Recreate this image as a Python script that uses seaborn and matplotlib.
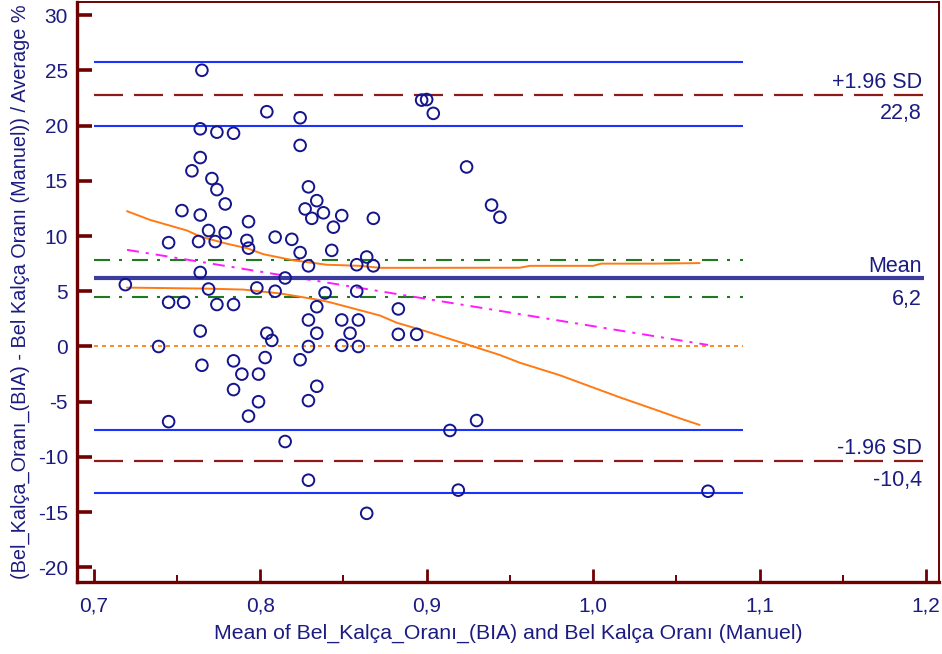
import numpy as np
import pandas as pd
import matplotlib
matplotlib.use("Agg")
import matplotlib.pyplot as plt
import seaborn as sns

# Bland-Altman: mean of the two waist-hip ratio methods vs. percent difference
mean_ratio = [
    0.765, 0.764, 0.774, 0.784, 0.764, 0.759, 0.771, 0.774, 0.779, 0.753,
    0.764, 0.745, 0.769, 0.779, 0.763, 0.773, 0.764, 0.719, 0.769, 0.745,
    0.754, 0.774, 0.784, 0.764, 0.739, 0.765, 0.784, 0.789, 0.784, 0.745,
    0.793, 0.792, 0.793, 0.793, 0.809, 0.819, 0.824, 0.843, 0.829, 0.858,
    0.864, 0.868, 0.815, 0.798, 0.809, 0.839, 0.858, 0.834, 0.829, 0.849,
    0.859, 0.834, 0.854, 0.804, 0.807, 0.829, 0.849, 0.859, 0.803, 0.824,
    0.799, 0.834, 0.799, 0.829, 0.815, 0.829, 0.864, 0.804, 0.824, 0.824,
    0.829, 0.834, 0.827, 0.831, 0.838, 0.849, 0.844, 0.868, 0.883, 0.883,
    0.894, 0.897, 0.900, 0.904, 0.924, 0.939, 0.944, 0.930, 0.914, 0.919,
    1.069,
]
pct_diff = [
    25.0, 19.7, 19.4, 19.3, 17.1, 15.9, 15.2, 14.2, 12.9, 12.3,
    11.9, 9.4, 10.5, 10.3, 9.5, 9.5, 6.7, 5.6, 5.2, 4.0,
    4.0, 3.8, 3.8, 1.4, 0.0, -1.7, -1.3, -2.5, -3.9, -6.8,
    11.3, 9.6, 8.9, -6.3, 9.9, 9.7, 8.5, 8.7, 7.3, 7.4,
    8.1, 7.3, 6.2, 5.3, 5.0, 4.85, 5.0, 3.6, 2.4, 2.4,
    2.4, 1.2, 1.2, 1.2, 0.55, 0.0, 0.1, 0.0, -1.0, -1.2,
    -2.5, -3.6, -5.0, -4.9, -8.6, -12.1, -15.1, 21.25, 20.7, 18.2,
    14.45, 13.2, 12.45, 11.6, 12.1, 11.85, 10.8, 11.6, 3.4, 1.1,
    1.1, 22.3, 22.35, 21.1, 16.25, 12.8, 11.7, -6.7, -7.6, -13.0,
    -13.1,
]

# Summary statistics
mean_diff = 6.2
upper_loa = 22.8
lower_loa = -10.4
mean_ci = [7.8, 4.5]
upper_loa_ci = [25.75, 20.0]
lower_loa_ci = [-7.6, -13.3]

# Regression of the difference on the mean, with its confidence curves
reg_x = [0.720, 1.069]
reg_y = [8.75, 0.14]
band_hi_x = [0.720, 0.734, 0.756, 0.764, 0.780, 0.792, 0.802, 0.820, 0.840,
             0.860, 0.872, 0.900, 0.956, 0.962, 1.000, 1.005, 1.037, 1.064]
band_hi_y = [12.25, 11.45, 10.5, 9.95, 9.3, 8.9, 8.35, 7.8, 7.4,
             7.3, 7.12, 7.12, 7.13, 7.3, 7.3, 7.5, 7.5, 7.55]
band_lo_x = [0.720, 0.768, 0.790, 0.812, 0.836, 0.842, 0.872, 0.882, 0.898,
             0.926, 0.944, 0.956, 0.980, 0.998, 1.016, 1.038, 1.052, 1.064]
band_lo_y = [5.33, 5.24, 5.15, 4.8, 4.2, 4.0, 2.8, 2.15, 1.45,
             0.1, -0.77, -1.47, -2.6, -3.6, -4.6, -5.75, -6.5, -7.1]

x_ticks = [0.7, 0.8, 0.9, 1.0, 1.1, 1.2]
x_minor = [0.75, 0.85, 0.95, 1.05, 1.15]
y_ticks = [-20, -15, -10, -5, 0, 5, 10, 15, 20, 25, 30]

x_label = "Mean of Bel_Kalça_Oranı_(BIA) and Bel Kalça Oranı (Manuel)"
y_label = "(Bel_Kalça_Oranı_(BIA) - Bel Kalça Oranı (Manuel)) / Average %"

sns.set_theme(style="white")
plt.rcParams["font.family"] = ["Liberation Sans", "DejaVu Sans"]
plt.rcParams["axes.unicode_minus"] = False
plt.rcParams["lines.scale_dashes"] = False

NAVY = "#1c1c80"
MAROON = "#6e0000"
FS_TICK = 15.0
FS_ANN = 15.5
PX = 72 / 100  # one pixel in points

fig = plt.figure(figsize=(9.42, 6.54), dpi=100)
fig.patch.set_facecolor("white")
ax = fig.add_axes([77 / 942, 1 - 581.5 / 654, 862 / 942, 579.5 / 654])
ax.set_facecolor("white")

x0, x_ci_end, x_line_end = 0.7, 1.09, 1.1985

def hline(y, x1, color, lw, dashes=None, z=2):
    ls = "-" if dashes is None else (0, tuple(d * PX for d in dashes))
    ax.plot([x0, x1], [y, y], color=color, lw=lw, linestyle=ls,
            solid_capstyle="butt", dash_capstyle="butt", zorder=z)

# confidence limits of the limits of agreement
for v in upper_loa_ci + lower_loa_ci:
    hline(v, x_ci_end, "#1a33ff", 1.5)
# confidence limits of the mean difference
for v in mean_ci:
    hline(v, x_ci_end, "#1e7a1e", 1.5, dashes=(16, 9, 3, 10))
# line of equality
hline(0, x_ci_end, "#ff8a1f", 1.4, dashes=(4, 4))
# limits of agreement
for v in (upper_loa, lower_loa):
    hline(v, x_line_end, "#8e1a1a", 1.6, dashes=(29, 11))
# mean difference
hline(mean_diff, x_line_end, "#3c3c9c", 3.0, z=3)

# regression line and its confidence curves
sns.lineplot(x=reg_x, y=reg_y, ax=ax, color="#ff1aff", lw=1.4,
             linestyle=(0, (12 * PX, 7 * PX, 3 * PX, 7 * PX)), zorder=2)
sns.lineplot(x=band_hi_x, y=band_hi_y, ax=ax, color="#ff7a14", lw=1.4,
             sort=False, estimator=None, zorder=2)
sns.lineplot(x=band_lo_x, y=band_lo_y, ax=ax, color="#ff7a14", lw=1.4,
             sort=False, estimator=None, zorder=2)

pts = pd.DataFrame({"m": mean_ratio, "d": pct_diff})
sns.scatterplot(data=pts, x="m", y="d", ax=ax, marker="o", s=70,
                facecolor="none", edgecolor="#14148c", linewidth=1.4, zorder=4)

def fmt(v):
    return f"{v:.1f}".replace(".", ",")

ann = dict(textcoords="offset pixels", ha="right", va="baseline",
           fontsize=FS_ANN, color=NAVY, zorder=5)
ax.annotate("+1.96 SD", (1.1975, upper_loa), xytext=(0, 7), **ann)
ax.annotate(fmt(upper_loa), (1.1975, upper_loa), xytext=(0, -24), **ann)
ax.annotate("Mean", (1.1975, mean_diff), xytext=(0, 6), **ann)
ax.annotate(fmt(mean_diff), (1.1975, mean_diff), xytext=(0, -27), **ann)
ax.annotate("-1.96 SD", (1.1975, lower_loa), xytext=(0, 7), **ann)
ax.annotate(fmt(lower_loa), (1.1975, lower_loa), xytext=(0, -25), **ann)

ax.set_xlim(0.68996, 1.2078)
ax.set_ylim(-21.27, 31.18)
ax.set_xticks(x_ticks)
ax.set_xticks(x_minor, minor=True)
ax.set_xticklabels([fmt(v) for v in x_ticks])
ax.set_yticks(y_ticks)
ax.set_yticklabels([str(v) for v in y_ticks])

ax.tick_params(axis="y", which="major", direction="in", length=10.5, width=2.6,
               color=MAROON, labelsize=FS_TICK, labelcolor=NAVY, pad=6.5,
               left=True, right=False)
ax.tick_params(axis="x", which="major", direction="in", length=9.5, width=2.0,
               color=MAROON, labelsize=FS_TICK, labelcolor=NAVY, pad=10.5,
               bottom=True, top=False)
ax.tick_params(axis="x", which="minor", direction="in", length=5, width=1.4,
               color=MAROON, bottom=True, top=False)

for side, w in (("left", 2.4), ("bottom", 2.4), ("top", 1.4), ("right", 1.4)):
    ax.spines[side].set_visible(True)
    ax.spines[side].set_color(MAROON)
    ax.spines[side].set_linewidth(w)

ax.set_xlabel(x_label, fontsize=15.3, color=NAVY, va="center")
ax.xaxis.set_label_coords(0.5, (581.5 - 633) / 579.5)
ax.set_ylabel(y_label, fontsize=14.3, color=NAVY, va="center")
ax.yaxis.set_label_coords((20 - 77) / 862, 0.5)

fig.savefig("out.png", dpi=100, facecolor="white")
